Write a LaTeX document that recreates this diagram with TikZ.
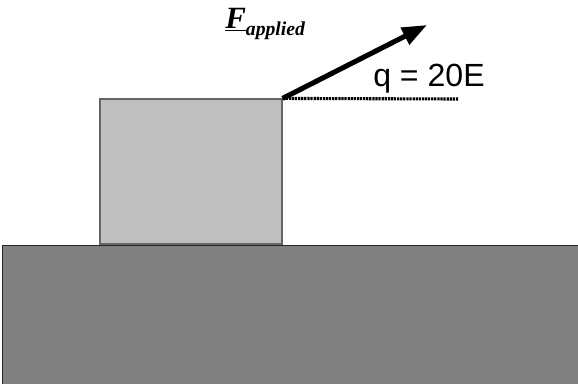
\documentclass[tikz,border=0pt]{standalone}
\usepackage{fontspec}
\setmainfont{Liberation Serif}
\newfontfamily\anglefont{Liberation Sans}
\usetikzlibrary{arrows.meta, positioning}

\begin{document}
\begin{tikzpicture}[
  x=0.025cm, y=-0.025cm,
  block/.style={rectangle, draw=black!60, fill=black!25, line width=0.8pt, minimum width=4.55cm, minimum height=3.625cm, inner sep=0pt},
  floor/.style={rectangle, draw=black!85, fill=black!50, line width=1pt, minimum width=15cm, minimum height=4cm, inner sep=0pt},
  force/.style={-{Triangle[length=0.62cm, width=0.45cm]}, line width=3.6pt},
  refline/.style={line width=2.2pt, dash pattern=on 1.6pt off 0.6pt},
]

\useasboundingbox (0,0) rectangle (578,383);
\clip (0,0) rectangle (578,383);

\node[floor, anchor=north west] (ground) at (2,245) {};
\node[block] (box) at (191,171.5) {};

\coordinate (tip) at (427,25);
\coordinate (refend) at (458,99);

\draw[refline] (box.north east) -- (refend);
\draw[force] (box.north east) -- (tip);

\node[anchor=base west, inner sep=0pt, font=\anglefont\fontsize{22.8}{26}\selectfont] (angle) at (373,86) {q = 20E};
\node[anchor=base west, inner sep=0pt, font=\bfseries\itshape] (flabel) at (225,28)
  {{\fontsize{22}{24}\selectfont\underline{F}}\raisebox{-5pt}{\fontsize{14}{16}\selectfont applied}};

\end{tikzpicture}
\end{document}
